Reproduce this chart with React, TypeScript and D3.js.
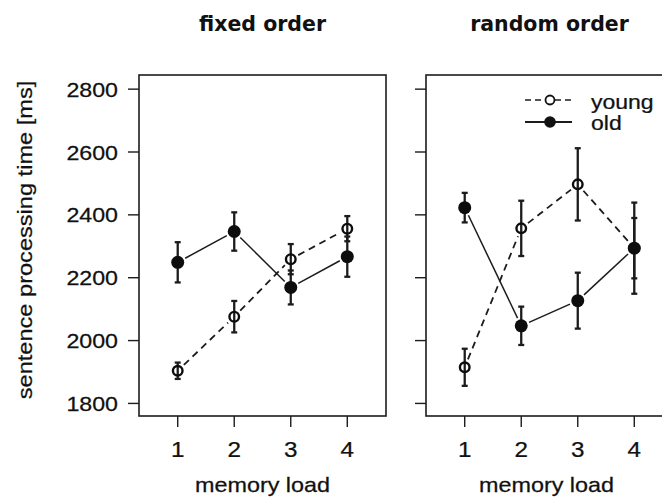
import React from "react";
import * as d3 from "d3";

const loads = [1, 2, 3, 4];
const panelTitles = ["fixed order", "random order"];
const fixedYoung = [1904, 2076, 2259, 2356];
const fixedYoungErr = [26, 50, 48, 40];
const fixedOld = [2249, 2347, 2169, 2267];
const fixedOldErr = [64, 61, 54, 64];
const randomYoung = [1915, 2357, 2497, 2294];
const randomYoungErr = [59, 88, 115, 96];
const randomOld = [2423, 2047, 2127, 2294];
const randomOldErr = [47, 61, 89, 145];
const yTicks = [1800, 2000, 2200, 2400, 2600, 2800];
const legendLabels = ["young", "old"];
const yLabel = "sentence processing time [ms]";
const xLabel = "memory load";

const W = 662;
const H = 497;
const TOP = 75;
const BOTTOM = 416;
const panelLefts = [139, 426];
const PANEL_W = 247;
const AX = "#1c1c1c";
const SANS = "'Liberation Sans', Arial, sans-serif";

const yScale = d3.scaleLinear().domain([1760, 2845]).range([BOTTOM, TOP]);

function Txt({ x, y, sx = 1.17, rot = 0, anchor = "middle", size = 20, weight = "normal", family = SANS, children }: any) {
  return (
    <text
      transform={`translate(${x},${y}) rotate(${rot}) scale(${sx},1)`}
      textAnchor={anchor}
      fontSize={size}
      fontWeight={weight}
      fontFamily={family}
      fill="#111"
      stroke="#111"
      strokeWidth={weight === "bold" ? 0 : 0.25}
    >
      {children}
    </text>
  );
}

function Series({ x, vals, errs, dashed, filled }: any) {
  const pts = loads.map((l, i) => [x(l), yScale(vals[i])]);
  const gap = 8.5;
  const segs = pts.slice(1).map((p, i) => {
    const a = pts[i];
    const dx = p[0] - a[0];
    const dy = p[1] - a[1];
    const len = Math.hypot(dx, dy);
    const ux = dx / len;
    const uy = dy / len;
    return [a[0] + ux * gap, a[1] + uy * gap, p[0] - ux * gap, p[1] - uy * gap];
  });
  return (
    <g>
      {segs.map((s, i) => (
        <line key={"s" + i} x1={s[0]} y1={s[1]} x2={s[2]} y2={s[3]} stroke={AX}
          strokeWidth={dashed ? 1.8 : 1.5}
          strokeDasharray={dashed ? "7,5" : undefined} />
      ))}
      {loads.map((l, i) => {
        const cx = x(l);
        const t = yScale(vals[i] + errs[i]);
        const b = yScale(vals[i] - errs[i]);
        return (
          <g key={"e" + i} stroke={AX} strokeWidth={2.3}>
            <line x1={cx} x2={cx} y1={t} y2={b} />
            <line x1={cx - 3} x2={cx + 3} y1={t} y2={t} />
            <line x1={cx - 3} x2={cx + 3} y1={b} y2={b} />
          </g>
        );
      })}
      {pts.map((p, i) =>
        filled ? (
          <circle key={"p" + i} cx={p[0]} cy={p[1]} r={6.5} fill="#0d0d0d" />
        ) : (
          <circle key={"p" + i} cx={p[0]} cy={p[1]} r={4.8} fill="none" stroke="#0d0d0d" strokeWidth={2.4} />
        )
      )}
    </g>
  );
}

function Panel({ idx, young, youngErr, old, oldErr }: any) {
  const left = panelLefts[idx];
  const right = left + PANEL_W;
  const x = d3.scaleLinear().domain([0.315, 4.685]).range([left, right]);
  const cx = (left + right) / 2;
  return (
    <g>
      <Txt x={cx} y={31} size={20.5} weight="bold" family="'DejaVu Sans', Verdana, sans-serif" sx={1}>
        {panelTitles[idx]}
      </Txt>
      <rect x={left} y={TOP} width={PANEL_W} height={BOTTOM - TOP} fill="none" stroke={AX} strokeWidth={1.6} />
      {yTicks.map((t) => (
        <g key={t}>
          <line x1={left - 11} x2={left} y1={yScale(t)} y2={yScale(t)} stroke={AX} strokeWidth={1.4} />
          {idx === 0 && (
            <Txt x={left - 21} y={yScale(t) + 7.5} anchor="end" size={20} sx={1.16}>
              {t}
            </Txt>
          )}
        </g>
      ))}
      {loads.map((l) => (
        <g key={l}>
          <line x1={x(l)} x2={x(l)} y1={BOTTOM} y2={BOTTOM + 11} stroke={AX} strokeWidth={1.4} />
          <Txt x={x(l)} y={456.5} size={22} sx={1.1}>
            {l}
          </Txt>
        </g>
      ))}
      <Txt x={cx - (idx === 1 ? 3 : 0)} y={491.5} size={20} sx={1.17}>
        {xLabel}
      </Txt>
      <Series x={x} vals={young} errs={youngErr} dashed filled={false} />
      <Series x={x} vals={old} errs={oldErr} dashed={false} filled />
      {idx === 1 && (
        <g>
          <line x1={525} x2={572} y1={100} y2={100} stroke={AX} strokeWidth={1.6} strokeDasharray="6,4" />
          <circle cx={550} cy={100} r={4.5} fill="white" stroke="#111" strokeWidth={1.8} />
          <line x1={525} x2={572} y1={122} y2={122} stroke={AX} strokeWidth={1.8} />
          <circle cx={550} cy={122} r={5.8} fill="#111" />
          <Txt x={591} y={108.5} anchor="start" size={20} sx={1.15}>
            {legendLabels[0]}
          </Txt>
          <Txt x={591} y={130} anchor="start" size={20} sx={1.15}>
            {legendLabels[1]}
          </Txt>
        </g>
      )}
    </g>
  );
}

export default function App() {
  return (
    <svg width={W} height={H} style={{ position: "absolute", left: 0, top: 0, background: "white" }}>
      <rect width={W} height={H} fill="white" />
      <Txt x={32} y={240} rot={-90} size={20} sx={1.18}>
        {yLabel}
      </Txt>
      <Panel idx={0} young={fixedYoung} youngErr={fixedYoungErr} old={fixedOld} oldErr={fixedOldErr} />
      <Panel idx={1} young={randomYoung} youngErr={randomYoungErr} old={randomOld} oldErr={randomOldErr} />
    </svg>
  );
}
